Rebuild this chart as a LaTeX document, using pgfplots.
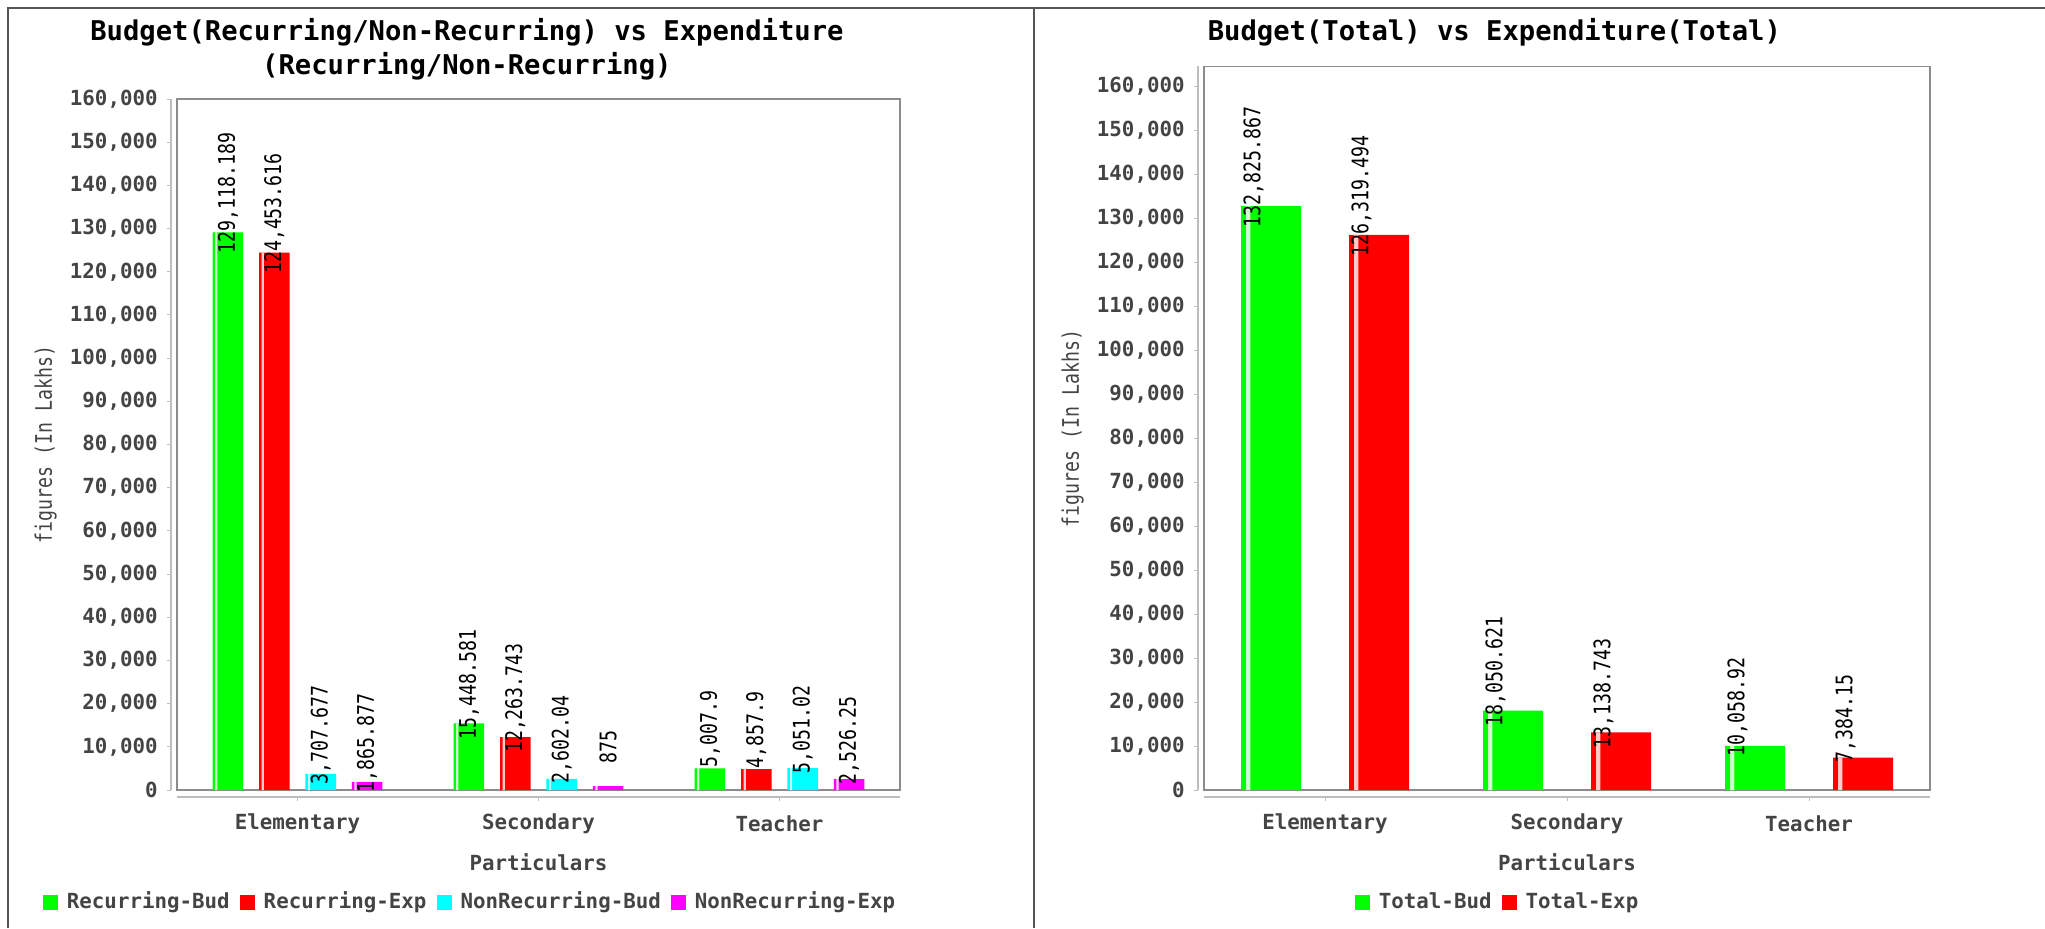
\documentclass[border=0pt]{standalone}
\usepackage{fontspec}
\usepackage{graphicx}
\usepackage{pgfplots}
\usepackage{pgfplotstable}
\pgfplotsset{compat=1.18}

\newfontfamily\mono{DejaVu Sans Mono}
\newfontfamily\valfont[FakeStretch=0.8]{DejaVu Sans Mono}

\definecolor{txtgray}{HTML}{444444}
\definecolor{boxgray}{HTML}{8C8C8C}
\definecolor{axgray}{HTML}{BDBDBD}
\definecolor{framegray}{HTML}{555555}
\definecolor{cgreen}{HTML}{00FF00}
\definecolor{cred}{HTML}{FF0000}
\definecolor{ccyan}{HTML}{00FFFF}
\definecolor{cmag}{HTML}{FF00FF}

\newcommand{\lblfont}{\mono\bfseries\fontsize{10.4}{12}\selectfont}

% recurring / non-recurring
\pgfplotstableread{
c rb re nb ne rbl rel nbl nel
0 129118.189 124453.616 3707.677 1865.877 129,118.189 124,453.616 3,707.677 1,865.877
1 15448.581 12263.743 2602.04 875 15,448.581 12,263.743 2,602.04 875
2 5007.9 4857.9 5051.02 2526.25 5,007.9 4,857.9 5,051.02 2,526.25
}\tabL

% totals
\pgfplotstableread{
c tb te tbl tel
0 132825.867 126319.494 132,825.867 126,319.494
1 18050.621 13138.743 18,050.621 13,138.743
2 10058.92 7384.15 10,058.92 7,384.15
}\tabR

\pgfplotsset{
  jfc/.style={
    scale only axis, anchor=south west,
    xmin=-0.5, xmax=2.5, ymin=0,
    xtick={0,1,2}, xticklabels={Elementary,Secondary,Teacher},
    ytick={0,10000,...,160000},
    scaled y ticks=false,
    /pgf/number format/fixed,
    /pgf/number format/precision=0,
    /pgf/number format/1000 sep={,},
    /pgf/number format/assume math mode=true,
    xtick pos=bottom, ytick pos=left,
    tick align=outside, major tick length=2pt,
    ytick style={draw=axgray, line width=0.5pt, xshift=-3pt},
    xtick style={draw=axgray, line width=0.5pt, yshift=-3.5pt},
    tick label style={font=\lblfont, text=txtgray},
    yticklabel style={anchor=east, inner sep=0pt, xshift=-7.5pt},
    xticklabel style={anchor=center, inner sep=0pt, yshift=-15pt},
    axis line style={draw=boxgray, line width=0.9pt},
    title style={anchor=center, align=center, font=\mono\bfseries\fontsize{13.6}{17}\selectfont, text=black},
    xlabel={Particulars}, ylabel={figures (In Lakhs)},
    every axis x label/.style={at={([yshift=-36pt]rel axis cs:0.5,0)}, anchor=center, font=\lblfont, text=txtgray},
    every axis y label/.style={at={([xshift=-65.7pt]rel axis cs:0,0.5)}, rotate=90, anchor=center,
      font=\valfont\fontsize{11.4}{12}\selectfont, text=txtgray},
    legend image code/.code={\fill[##1] (0pt,-3.75pt) rectangle (7.5pt,3.75pt); \path (12pt,0pt);},
    legend style={anchor=center, yshift=-56pt, draw=none, fill=none, legend columns=-1,
      font=\lblfont, text=txtgray, inner sep=0pt, nodes={inner sep=0pt},
      /tikz/every even column/.append style={column sep=5pt}},
    after end axis/.code={
      \draw[axgray, line width=0.6pt] ([xshift=-3pt]rel axis cs:0,0) -- ([xshift=-3pt]rel axis cs:0,1);
      \draw[axgray, line width=0.6pt] ([yshift=-3.5pt]rel axis cs:0,0) -- ([yshift=-3.5pt]rel axis cs:1,0);
    },
  },
  % bar with its rotated value label: width, shift, colour, label offset
  vbar/.style n args={4}{ybar, bar width=#1, bar shift=#2, draw=none, fill=#3, forget plot,
    point meta=explicit symbolic,
    nodes near coords={\rotatebox{90}{\pgfplotspointmeta}},
    nodes near coords style={font=\valfont\fontsize{11.4}{12}\selectfont, text=black,
      anchor=center, inner sep=0pt, xshift=#2+#4, yshift=19.5pt}},
  % thin light stripe near the left edge of each bar
  sbar/.style n args={3}{ybar, bar width=#1, bar shift=#2, draw=none, fill=#3!20!white, forget plot},
}

\begin{document}
\begin{tikzpicture}
\path[use as bounding box] (0,0) rectangle (1022.5pt,464pt);
\draw[framegray, line width=1pt] (4pt,0) -- (4pt,460pt) -- (1022.5pt,460pt);
\draw[framegray, line width=0.7pt] (517pt,0) -- (517pt,460pt);

\begin{axis}[jfc,
    at={(88.5pt,69pt)}, width=361.5pt, height=345.5pt,
    ymax=160000,
    title={Budget(Recurring/Non-Recurring) vs Expenditure\\(Recurring/Non-Recurring)},
    title style={at={(0.401,1)}, yshift=18.9pt},
    legend style={at={(0.404,0)}},
]
\addplot[vbar={15.3pt}{-34.8pt}{cgreen}{0pt}] table[x=c, y=rb, meta=rbl] {\tabL};
\addplot[vbar={15.3pt}{-11.6pt}{cred}{0pt}] table[x=c, y=re, meta=rel] {\tabL};
\addplot[vbar={15.3pt}{11.6pt}{ccyan}{0pt}] table[x=c, y=nb, meta=nbl] {\tabL};
\addplot[vbar={15.3pt}{34.8pt}{cmag}{0pt}] table[x=c, y=ne, meta=nel] {\tabL};
\addplot[sbar={1.1pt}{-40.6pt}{cgreen}] table[x=c, y=rb] {\tabL};
\addplot[sbar={1.1pt}{-17.4pt}{cred}] table[x=c, y=re] {\tabL};
\addplot[sbar={1.1pt}{5.8pt}{ccyan}] table[x=c, y=nb] {\tabL};
\addplot[sbar={1.1pt}{29pt}{cmag}] table[x=c, y=ne] {\tabL};
\addlegendimage{fill=cgreen, draw=none}
\addlegendentry{Recurring-Bud}
\addlegendimage{fill=cred, draw=none}
\addlegendentry{Recurring-Exp}
\addlegendimage{fill=ccyan, draw=none}
\addlegendentry{NonRecurring-Bud}
\addlegendimage{fill=cmag, draw=none}
\addlegendentry{NonRecurring-Exp}
\end{axis}

\begin{axis}[jfc,
    at={(602pt,69pt)}, width=363pt, height=361.75pt,
    ymax=164600,
    title={Budget(Total) vs Expenditure(Total)},
    title style={at={(0.40,1)}, yshift=11.1pt},
    legend style={at={(0.403,0)}},
]
\addplot[vbar={30pt}{-27pt}{cgreen}{-8.8pt}] table[x=c, y=tb, meta=tbl] {\tabR};
\addplot[vbar={30pt}{27pt}{cred}{-8.8pt}] table[x=c, y=te, meta=tel] {\tabR};
\addplot[sbar={2.1pt}{-38.4pt}{cgreen}] table[x=c, y=tb] {\tabR};
\addplot[sbar={2.1pt}{15.6pt}{cred}] table[x=c, y=te] {\tabR};
\addlegendimage{fill=cgreen, draw=none}
\addlegendentry{Total-Bud}
\addlegendimage{fill=cred, draw=none}
\addlegendentry{Total-Exp}
\end{axis}
\end{tikzpicture}
\end{document}
